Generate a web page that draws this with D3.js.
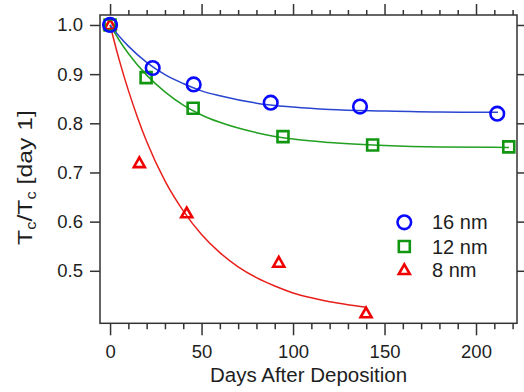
<!DOCTYPE html>
<html lang="en">
<head>
  <meta charset="UTF-8">
  <title>Tc vs days after deposition</title>
  <script src="https://d3js.org/d3.v7.min.js"></script>
  <style>
    body { margin: 0; background: #fff; }
    svg { display: block; font-family: "Liberation Sans", Arial, sans-serif; }
  </style>
</head>
<body>
  <svg id="chart" width="524" height="392"></svg>
  <script>
    // measured points (days, Tc / Tc[day 1])
    const days16 = [0, 23.3, 45.7, 87.8, 136.6, 211.6];
    const vals16 = [1.0, 0.9125, 0.879, 0.842, 0.834, 0.8196];
    const days12 = [0, 19.7, 45.4, 94.5, 143.5, 217.9];
    const vals12 = [1.0, 0.893, 0.8305, 0.773, 0.756, 0.752];
    const days8 = [0, 16.0, 41.9, 92.2, 139.9];
    const vals8 = [1.0, 0.719, 0.617, 0.5165, 0.4135];

    // fit curves
    const fitDays16 = [0, 5, 10, 20, 30, 40, 50, 60, 80, 100, 120, 150, 180, 212];
    const fitVals16 = [1.0, 0.977, 0.957, 0.924, 0.899, 0.881, 0.866, 0.856, 0.841, 0.833, 0.828, 0.825, 0.823, 0.8225];
    const fitDays12 = [0, 5, 10, 20, 30, 40, 50, 60, 80, 100, 120, 150, 180, 218];
    const fitVals12 = [1.0, 0.969, 0.942, 0.898, 0.864, 0.837, 0.817, 0.802, 0.781, 0.768, 0.761, 0.755, 0.752, 0.751];
    const fitDays8 = [0, 5, 10, 15, 20, 30, 40, 50, 60, 70, 80, 90, 100, 110, 120, 130, 140];
    const fitVals8 = [1.0, 0.929, 0.867, 0.812, 0.763, 0.683, 0.622, 0.574, 0.537, 0.508, 0.486, 0.469, 0.455, 0.445, 0.437, 0.431, 0.426];

    const xMajor = [0, 50, 100, 150, 200];
    const xMinor = [10, 20, 30, 40, 60, 70, 80, 90, 110, 120, 130, 140, 160, 170, 180, 190, 210, 220];
    const yTicks = [0.5, 0.6, 0.7, 0.8, 0.9, 1.0];

    const legendLabels = ['16 nm', '12 nm', '8 nm'];

    const svg = d3.select('#chart');
    const pl = 100, pr = 517, pt = 15, pb = 323.3;

    const x = d3.scaleLinear().domain([-5.5, 222.4]).range([pl, pr]);
    const y = d3.scaleLinear().domain([0.3932, 1.0203]).range([pb, pt]);

    const axisColor = '#333';
    const textColor = '#1e1e1e';

    // frame
    svg.append('rect')
      .attr('x', pl).attr('y', pt)
      .attr('width', pr - pl).attr('height', pb - pt)
      .attr('fill', 'none').attr('stroke', axisColor).attr('stroke-width', 1.5);

    function styleAxis(g) {
      g.select('.domain').remove();
      g.selectAll('.tick line').attr('stroke', axisColor).attr('stroke-width', 1.5);
      g.selectAll('.tick text').attr('fill', textColor).attr('font-size', 18.5)
        .attr('font-family', '"Liberation Sans", Arial, sans-serif');
    }

    // bottom axis
    svg.append('g')
      .attr('transform', `translate(0,${pb})`)
      .call(d3.axisBottom(x).tickValues(xMajor).tickSize(12).tickPadding(10).tickFormat(d3.format('d')))
      .call(styleAxis);
    svg.append('g')
      .attr('transform', `translate(0,${pb})`)
      .call(d3.axisBottom(x).tickValues(xMinor).tickSize(6).tickFormat(''))
      .call(styleAxis);

    // top axis
    svg.append('g')
      .attr('transform', `translate(0,${pt})`)
      .call(d3.axisTop(x).tickValues(xMajor).tickSize(11).tickFormat(''))
      .call(styleAxis);
    svg.append('g')
      .attr('transform', `translate(0,${pt})`)
      .call(d3.axisTop(x).tickValues(xMinor).tickSize(5).tickFormat(''))
      .call(styleAxis);

    // left axis
    svg.append('g')
      .attr('transform', `translate(${pl},0)`)
      .call(d3.axisLeft(y).tickValues(yTicks).tickSize(10).tickPadding(7).tickFormat(d3.format('.1f')))
      .call(styleAxis);

    // right axis
    svg.append('g')
      .attr('transform', `translate(${pr},0)`)
      .call(d3.axisRight(y).tickValues(yTicks).tickSize(10).tickFormat(''))
      .call(styleAxis);

    // axis titles
    svg.append('text')
      .attr('x', 308.5).attr('y', 381.5)
      .attr('text-anchor', 'middle')
      .attr('font-size', 20.5).attr('fill', textColor)
      .text('Days After Deposition');

    const yTitle = svg.append('text')
      .attr('transform', 'translate(32,177.5) rotate(-90)')
      .attr('text-anchor', 'middle')
      .attr('font-size', 21).attr('fill', textColor)
      .attr('textLength', 135).attr('lengthAdjust', 'spacingAndGlyphs');
    yTitle.append('tspan').text('T');
    yTitle.append('tspan').attr('font-size', 14).attr('dy', 4).text('c');
    yTitle.append('tspan').attr('dy', -4).text('/T');
    yTitle.append('tspan').attr('font-size', 14).attr('dy', 4).text('c');
    yTitle.append('tspan').attr('dy', -4).text(' [day 1]');

    // marker shapes
    const circlePath = (cx, cy) => {
      const r = 6.8;
      return `M${cx + r},${cy}A${r},${r} 0 1,1 ${cx - r},${cy}A${r},${r} 0 1,1 ${cx + r},${cy}Z`;
    };
    const squarePath = (cx, cy) => {
      const h = 5.5;
      return `M${cx - h},${cy - h}H${cx + h}V${cy + h}H${cx - h}Z`;
    };
    const trianglePath = (cx, cy) => {
      const w = 5.5, up = 5.7, dn = 4;
      return `M${cx},${cy - up}L${cx + w},${cy + dn}L${cx - w},${cy + dn}Z`;
    };

    const series = [
      { days: days8, vals: vals8, fd: fitDays8, fv: fitVals8, line: '#e8201c', mark: '#f00000', shape: trianglePath },
      { days: days12, vals: vals12, fd: fitDays12, fv: fitVals12, line: '#22a022', mark: '#129612', shape: squarePath },
      { days: days16, vals: vals16, fd: fitDays16, fv: fitVals16, line: '#2a46d0', mark: '#0a0aff', shape: circlePath }
    ];

    const line = d3.line()
      .x(d => x(d[0])).y(d => y(d[1]))
      .curve(d3.curveMonotoneX);

    series.forEach(s => {
      svg.append('path')
        .attr('d', line(d3.zip(s.fd, s.fv)))
        .attr('fill', 'none')
        .attr('stroke', s.line)
        .attr('stroke-width', 1.5);
    });

    series.forEach(s => {
      svg.append('g')
        .selectAll('path')
        .data(d3.zip(s.days, s.vals))
        .join('path')
        .attr('d', d => s.shape(x(d[0]), y(d[1])))
        .attr('fill', 'none')
        .attr('stroke', s.mark)
        .attr('stroke-width', 2.6);
    });

    // legend
    const legendShapes = [circlePath, squarePath, trianglePath];
    const legendColors = ['#0a0aff', '#129612', '#f00000'];
    const legendY = [222.3, 246.5, 270];
    legendLabels.forEach((lab, i) => {
      svg.append('path')
        .attr('d', legendShapes[i](404.3, legendY[i]))
        .attr('fill', 'none')
        .attr('stroke', legendColors[i])
        .attr('stroke-width', 2.6);
      svg.append('text')
        .attr('x', 432).attr('y', legendY[i] + 7)
        .attr('font-size', 20).attr('fill', textColor)
        .text(lab);
    });
  </script>
</body>
</html>
